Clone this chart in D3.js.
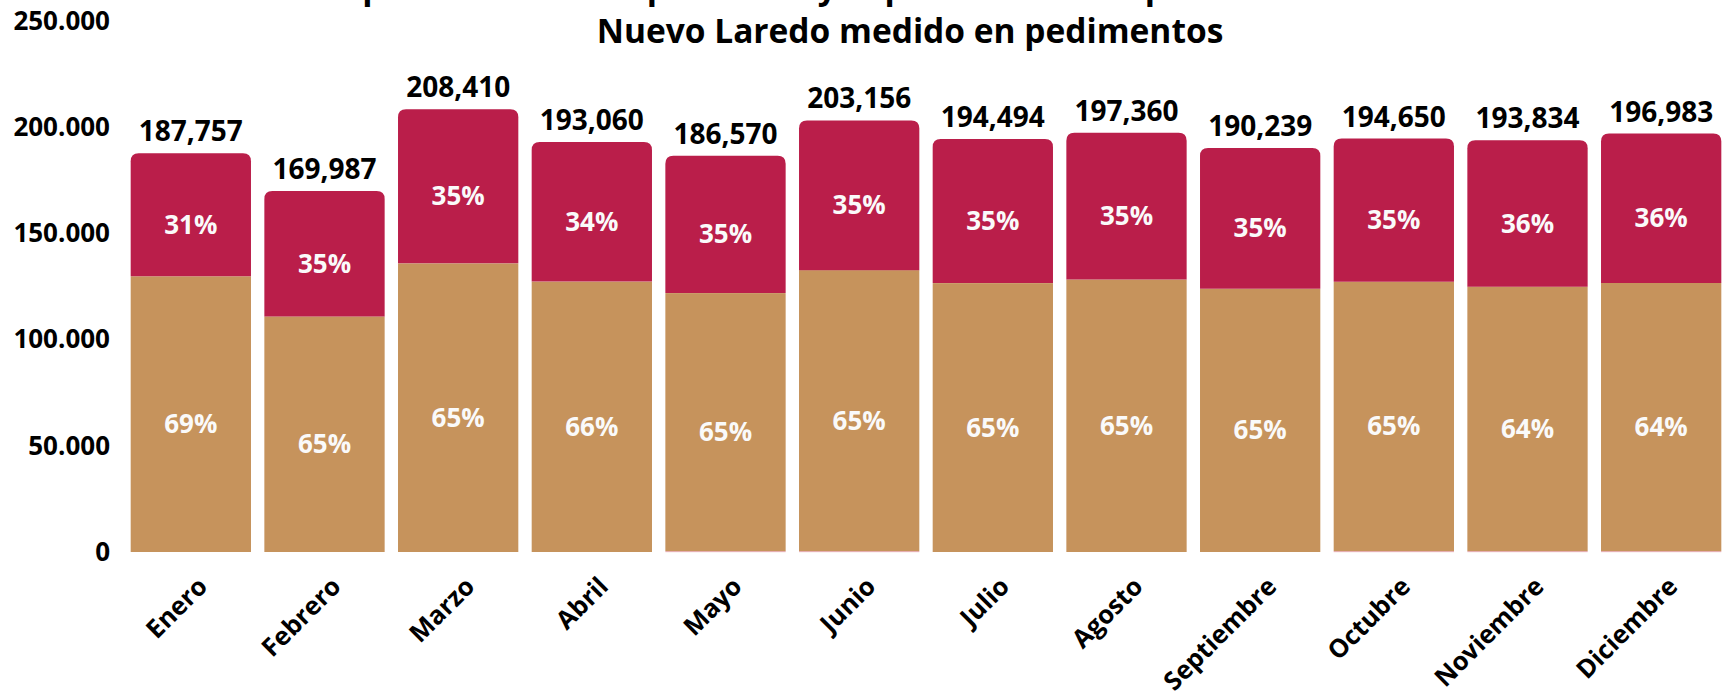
<!DOCTYPE html>
<html>
<head>
<meta charset="utf-8">
<script src="https://cdn.jsdelivr.net/npm/d3@7"></script>
<style>
  body { margin: 0; background: #fff; }
  svg { display: block; font-family: "Open Sans", sans-serif; font-weight: 700; }
</style>
</head>
<body>
<svg id="chart"></svg>
<script>
// datos
const meses = ["Enero","Febrero","Marzo","Abril","Mayo","Junio","Julio","Agosto","Septiembre","Octubre","Noviembre","Diciembre"];
const totales = [187757, 169987, 208410, 193060, 186570, 203156, 194494, 197360, 190239, 194650, 193834, 196983];
// tramo rosa muy delgado en la base (solo visible en algunos meses)
const tramoRosa = [0, 0, 0, 0, 400, 400, 0, 0, 0, 400, 400, 400];
const tramoOcre = [129800, 110900, 135900, 127300, 121500, 132300, 126600, 128300, 123900, 126800, 124500, 126300];
const tramoCarmin = [57957, 59087, 72510, 65760, 64670, 70456, 67894, 69060, 66339, 67450, 68934, 70283];
const pctOcre = ["69%","65%","65%","66%","65%","65%","65%","65%","65%","65%","64%","64%"];
const pctCarmin = ["31%","35%","35%","34%","35%","35%","35%","35%","35%","35%","36%","36%"];
const yTicks = [0, 50000, 100000, 150000, 200000, 250000];

const titulo = ["Operaciones de importación y exportación en el puerto fronterizo de",
                "Nuevo Laredo medido en pedimentos"];

const colores = {rosa: "#e8a9b5", ocre: "#c6935c", carmin: "#ba1e4a"};

const width = 1727;
const height = 696;

const svg = d3.select("#chart")
    .attr("width", width)
    .attr("height", height);

const x = d3.scaleBand()
    .domain(meses)
    .range([124, 1728])
    .paddingInner(0.1)
    .paddingOuter(0.05);

const y = d3.scaleLinear()
    .domain([0, 250000])
    .range([552, 21]);

const rows = meses.map((m, i) => ({
    mes: m, rosa: tramoRosa[i], ocre: tramoOcre[i], carmin: tramoCarmin[i],
    total: totales[i], pOcre: pctOcre[i], pCarmin: pctCarmin[i]
}));

const stack = d3.stack().keys(["rosa", "ocre", "carmin"]);
const series = stack(rows);

// rect with rounded top corners only
function topRounded(x0, y0, w, h, r) {
    r = Math.min(r, h, w / 2);
    return `M${x0},${y0 + h}V${y0 + r}Q${x0},${y0} ${x0 + r},${y0}` +
           `H${x0 + w - r}Q${x0 + w},${y0} ${x0 + w},${y0 + r}V${y0 + h}Z`;
}

series.forEach(s => {
    const g = svg.append("g").attr("fill", colores[s.key]);
    if (s.key === "carmin") {
        g.selectAll("path")
            .data(s)
            .enter().append("path")
            .attr("d", d => topRounded(x(d.data.mes), y(d[1]), x.bandwidth(), y(d[0]) - y(d[1]), 8));
    } else {
        g.selectAll("rect")
            .data(s.filter(d => d[1] > d[0]))
            .enter().append("rect")
            .attr("x", d => x(d.data.mes))
            .attr("y", d => y(d[1]))
            .attr("width", x.bandwidth())
            .attr("height", d => Math.max(1, y(d[0]) - y(d[1])));
    }
});

// porcentajes dentro de los tramos
const ocreS = series.find(s => s.key === "ocre");
const carminS = series.find(s => s.key === "carmin");

svg.append("g").selectAll("text")
    .data(ocreS)
    .enter().append("text")
    .attr("x", d => x(d.data.mes) + x.bandwidth() / 2)
    .attr("y", d => (y(d[0]) + y(d[1])) / 2 + 9)
    .attr("dominant-baseline", "central")
    .attr("text-anchor", "middle")
    .attr("fill", "#fafafa")
    .style("font-size", "26px")
    .text(d => d.data.pOcre);

svg.append("g").selectAll("text")
    .data(carminS)
    .enter().append("text")
    .attr("x", d => x(d.data.mes) + x.bandwidth() / 2)
    .attr("y", d => (y(d[0]) + y(d[1])) / 2 + 9)
    .attr("dominant-baseline", "central")
    .attr("text-anchor", "middle")
    .attr("fill", "#fafafa")
    .style("font-size", "26px")
    .text(d => d.data.pCarmin);

// totales encima de cada barra
svg.append("g").selectAll("text")
    .data(rows)
    .enter().append("text")
    .attr("x", d => x(d.mes) + x.bandwidth() / 2)
    .attr("y", d => y(d.total) - 12)
    .attr("text-anchor", "middle")
    .attr("fill", "#000")
    .style("font-size", "28px")
    .text(d => d3.format(",")(d.total));

// eje y
const esMX = d3.formatLocale({decimal: ",", thousands: ".", grouping: [3], currency: ["$", ""]});
const yAxis = svg.append("g")
    .attr("transform", "translate(110,0)")
    .call(d3.axisLeft(y).tickValues(yTicks).tickSize(0).tickPadding(0).tickFormat(esMX.format(",")));
yAxis.select(".domain").remove();
yAxis.selectAll("text")
    .attr("fill", "#000")
    .style("font-family", "'Open Sans', sans-serif")
    .style("font-weight", 700)
    .style("font-size", "26px");

// eje x
const xAxis = svg.append("g")
    .attr("transform", `translate(0,${y(0)})`)
    .call(d3.axisBottom(x).tickSize(0));
xAxis.select(".domain").remove();
xAxis.selectAll("text")
    .attr("y", 0)
    .attr("dy", 0)
    .attr("transform", "translate(18,36) rotate(-45)")
    .attr("text-anchor", "end")
    .attr("fill", "#000")
    .style("font-family", "'Open Sans', sans-serif")
    .style("font-weight", 700)
    .style("font-size", "25.5px");

// titulo (la primera linea queda recortada en el borde superior)
svg.append("g").selectAll("text")
    .data(titulo)
    .enter().append("text")
    .attr("x", 910)
    .attr("y", (d, i) => -1 + i * 44)
    .attr("text-anchor", "middle")
    .attr("fill", "#000")
    .style("font-size", "33.5px")
    .text(d => d);
</script>
</body>
</html>
